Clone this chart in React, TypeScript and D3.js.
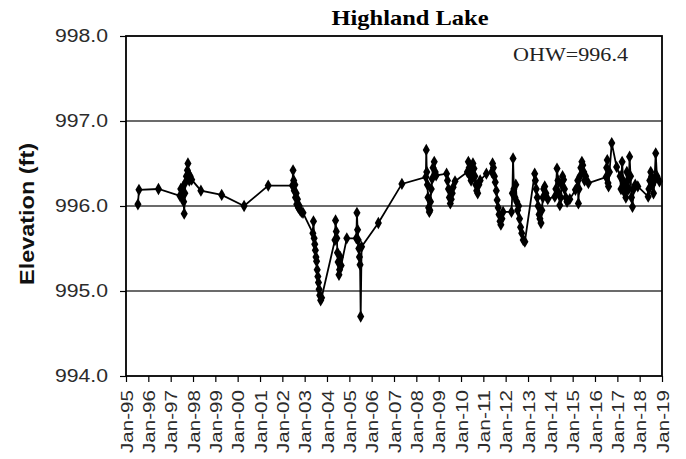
import React, { useEffect, useRef } from "react";
import * as d3 from "d3";

// lake level readings (elevation, ft)
const dates = [
  "1995-07-15", "1995-08-01", "1996-06-15",
  // 1997
  "1997-06-01", "1997-06-15", "1997-07-01", "1997-07-15", "1997-08-01", "1997-08-10", "1997-08-20", "1997-09-01",
  "1997-09-15", "1997-10-01", "1997-10-10", "1997-10-20", "1997-11-01", "1997-11-15", "1997-12-10",
  "1998-05-10", "1999-04-15", "2000-04-15", "2001-05-15", "2002-06-15",
  // 2002
  "2002-06-25", "2002-07-05", "2002-07-15", "2002-07-25", "2002-08-05", "2002-08-15", "2002-08-25", "2002-09-05",
  "2002-09-20", "2002-10-05", "2002-10-20", "2002-11-10", "2002-12-05",
  // 2003
  "2003-05-15", "2003-05-25", "2003-06-05", "2003-06-15", "2003-06-25", "2003-07-05", "2003-07-15", "2003-07-25",
  "2003-08-05", "2003-08-15", "2003-08-25", "2003-09-05", "2003-09-20", "2003-10-05",
  // 2004
  "2004-05-10", "2004-05-20", "2004-06-01", "2004-06-10", "2004-06-20", "2004-07-01", "2004-07-15", "2004-07-25",
  "2004-08-05", "2004-08-20", "2004-11-20",
  // 2005
  "2005-04-25", "2005-05-05", "2005-05-15", "2005-05-25", "2005-06-05", "2005-06-15", "2005-06-25", "2005-07-05",
  "2005-07-20",
  "2006-04-20", "2007-05-10",
  // 2008
  "2008-06-05", "2008-06-12", "2008-06-20", "2008-07-01", "2008-07-10", "2008-07-20", "2008-08-01", "2008-08-10",
  "2008-08-20", "2008-09-01", "2008-09-15", "2008-10-01", "2008-10-20", "2008-11-05", "2008-11-20",
  // 2009
  "2009-05-10", "2009-05-25", "2009-06-10", "2009-06-25", "2009-07-10", "2009-07-25", "2009-08-10", "2009-08-25",
  "2009-09-25",
  // 2010
  "2010-04-15", "2010-05-01", "2010-05-15", "2010-06-01", "2010-06-15", "2010-07-01", "2010-07-15", "2010-08-01",
  "2010-08-15", "2010-09-01", "2010-09-15", "2010-10-01", "2010-10-20", "2010-11-10",
  "2011-02-20",
  // 2011
  "2011-05-20", "2011-06-01", "2011-06-15", "2011-07-01", "2011-07-15", "2011-08-01", "2011-08-15", "2011-09-01",
  "2011-09-15", "2011-10-01", "2011-10-15", "2011-11-01", "2011-11-20",
  "2012-04-05",
  // 2012
  "2012-04-20", "2012-05-01", "2012-05-15", "2012-06-01", "2012-06-15", "2012-07-01", "2012-07-15", "2012-08-01",
  "2012-08-15", "2012-09-01", "2012-09-20", "2012-10-15", "2012-11-10",
  // 2013
  "2013-04-20", "2013-05-01", "2013-05-15", "2013-06-01", "2013-06-15", "2013-07-01", "2013-07-15", "2013-08-01",
  "2013-08-15", "2013-09-01", "2013-09-15", "2013-10-01", "2013-10-20", "2013-11-20",
  // 2014
  "2014-03-15", "2014-04-01", "2014-04-20", "2014-05-05", "2014-05-20", "2014-06-05", "2014-06-20", "2014-07-05",
  "2014-07-20", "2014-08-05", "2014-08-20", "2014-09-10", "2014-10-01", "2014-11-15",
  "2015-02-15",
  // 2015
  "2015-03-25", "2015-04-05", "2015-04-15", "2015-05-01", "2015-05-15", "2015-06-01", "2015-06-15", "2015-07-01",
  "2015-07-15", "2015-08-01", "2015-09-15",
  // 2016
  "2016-07-01", "2016-07-10", "2016-07-20", "2016-08-01", "2016-08-10", "2016-08-25", "2016-10-01", "2016-12-20",
  // 2017
  "2017-02-15", "2017-03-01", "2017-03-20", "2017-04-05", "2017-04-20", "2017-05-05", "2017-05-20", "2017-06-05",
  "2017-06-20", "2017-07-05", "2017-07-20", "2017-08-05", "2017-08-20", "2017-09-05", "2017-09-25", "2017-10-20",
  "2017-12-01",
  // 2018
  "2018-05-20", "2018-06-01", "2018-06-15", "2018-07-01", "2018-07-15", "2018-08-01", "2018-08-15", "2018-09-01",
  "2018-09-20", "2018-10-10", "2018-11-20",
];

const elevations = [
  996.02, 996.19, 996.2,
  996.12, 996.2, 996.1, 996.22, 996.05, 995.91, 996.15, 996.28,
  996.35, 996.42, 996.5, 996.38, 996.3, 996.35, 996.31,
  996.18, 996.13, 996.0, 996.24, 996.24,
  996.42, 996.3, 996.18, 996.25, 996.1, 996.15, 996.02, 996.08,
  995.98, 996.0, 995.95, 995.93, 995.92,
  995.68, 995.82, 995.62, 995.55, 995.48, 995.4, 995.35, 995.25,
  995.17, 995.1, 995.02, 994.95, 994.89, 994.92,
  995.6, 995.83, 995.7, 995.62, 995.45, 995.34, 995.19, 995.25,
  995.4, 995.3, 995.62,
  995.62, 995.92, 995.72, 995.6, 995.5, 995.4, 995.31, 994.7,
  995.52,
  995.8, 996.26,
  996.34, 996.66, 996.4, 996.25, 996.1, 995.98, 995.93, 995.95,
  996.05, 996.2, 996.32, 996.45, 996.52, 996.4, 996.36,
  996.38, 996.3, 996.2, 996.1, 996.03, 996.08, 996.15, 996.22,
  996.29,
  996.4, 996.52, 996.45, 996.35, 996.3, 996.42, 996.5, 996.44,
  996.35, 996.25, 996.18, 996.15, 996.25, 996.3,
  996.38,
  996.4, 996.5, 996.45, 996.35, 996.28, 996.18, 996.07, 995.98,
  995.9, 995.82, 995.78, 995.85, 995.93,
  995.93,
  996.15, 996.56, 996.2, 996.1, 996.25, 996.05, 995.95, 996.0,
  995.85, 995.75, 995.68, 995.6, 995.58,
  996.38, 996.3, 996.2, 996.1, 996.0, 995.9, 995.85, 995.8,
  995.95, 996.1, 996.2, 996.23, 996.15, 996.08,
  996.11, 996.2, 996.44, 996.3, 996.15, 996.01, 996.1, 996.25,
  996.35, 996.31, 996.2, 996.1, 996.05, 996.08,
  996.19,
  996.3, 996.03, 996.2, 996.35, 996.45, 996.52, 996.48, 996.4,
  996.3, 996.35, 996.27,
  996.34, 996.45, 996.54, 996.27, 996.23, 996.4, 996.74, 996.46,
  996.35, 996.2, 996.52, 996.3, 996.25, 996.15, 996.1, 996.4,
  996.3, 996.2, 996.58, 996.35, 996.1, 995.99, 996.2, 996.25,
  996.23,
  996.11, 996.2, 996.3, 996.4, 996.35, 996.25, 996.15, 996.3,
  996.62, 996.35, 996.29,
];

const yTicks = [994, 995, 996, 997, 998];
const gridLevels = [995, 996, 997];
const tickYears = d3.range(1995, 2020);
const chartTitle = "Highland Lake";
const ohwNote = "OHW=996.4";

const App = () => {
  const ref = useRef<SVGSVGElement>(null);

  useEffect(() => {
    const width = 686, height = 459;
    const m = { left: 126, right: 24, top: 36, bottom: 83 };
    const svg = d3.select(ref.current).attr("width", width).attr("height", height);
    svg.selectAll("*").remove();

    const parse = d3.timeParse("%Y-%m-%d");
    const data = dates.map((d, i) => ({ date: parse(d)!, value: elevations[i] }));

    const x = d3.scaleTime()
      .domain([new Date(1995, 0, 1), new Date(2019, 0, 1)])
      .range([m.left, width - m.right]);
    const y = d3.scaleLinear()
      .domain([994, 998])
      .range([height - m.bottom, m.top]);

    // gridlines
    svg.append("g")
      .selectAll("line")
      .data(gridLevels)
      .enter()
      .append("line")
      .attr("x1", m.left).attr("x2", width - m.right)
      .attr("y1", d => y(d)).attr("y2", d => y(d))
      .attr("stroke", "#3a3a3a").attr("stroke-width", 1.3);

    // x axis
    const xAxis = svg.append("g")
      .attr("transform", `translate(0,${height - m.bottom})`)
      .call(d3.axisBottom(x)
        .tickValues(tickYears.map(yr => new Date(yr, 0, 1)))
        .tickSize(6)
        .tickFormat(d => "Jan-" + d3.timeFormat("%y")(d as Date)));
    xAxis.select(".domain").remove();
    xAxis.selectAll("line").attr("stroke", "#000").attr("stroke-width", 1.2);
    xAxis.selectAll("text")
      .attr("transform", "rotate(-90)")
      .attr("text-anchor", "end")
      .attr("x", -14).attr("y", 0).attr("dy", "0.36em")
      .attr("fill", "#2b2b2b")
      .attr("font-family", "'Liberation Sans', Arial, sans-serif")
      .attr("font-size", 17)
      .attr("textLength", 63).attr("lengthAdjust", "spacingAndGlyphs");

    // y axis
    const yAxis = svg.append("g")
      .attr("transform", `translate(${m.left},0)`)
      .call(d3.axisLeft(y).tickValues(yTicks).tickSize(6).tickFormat(d3.format(".1f")));
    yAxis.select(".domain").remove();
    yAxis.selectAll("line").attr("stroke", "#000").attr("stroke-width", 1.2);
    yAxis.selectAll("text")
      .attr("x", -18)
      .attr("fill", "#2b2b2b")
      .attr("font-family", "'Liberation Sans', Arial, sans-serif")
      .attr("font-size", 18)
      .attr("textLength", 53).attr("lengthAdjust", "spacingAndGlyphs");

    // plot frame
    svg.append("rect")
      .attr("x", m.left).attr("y", m.top)
      .attr("width", width - m.left - m.right)
      .attr("height", height - m.top - m.bottom)
      .attr("fill", "none").attr("stroke", "#000").attr("stroke-width", 1.8);

    // data line and diamond markers
    const line = d3.line<{ date: Date; value: number }>()
      .x(d => x(d.date))
      .y(d => y(d.value));
    svg.append("path")
      .datum(data)
      .attr("d", line)
      .attr("fill", "none")
      .attr("stroke", "#000")
      .attr("stroke-width", 1.8);

    svg.append("g")
      .selectAll("path")
      .data(data)
      .enter()
      .append("path")
      .attr("d", d3.symbol().type(d3.symbolDiamond).size(44))
      .attr("transform", d => `translate(${x(d.date)},${y(d.value)})`)
      .attr("fill", "#000");

    // title and annotations
    svg.append("text")
      .attr("x", 410).attr("y", 25)
      .attr("text-anchor", "middle")
      .attr("font-family", "'Times New Roman', 'Liberation Serif', serif")
      .attr("font-weight", "bold")
      .attr("font-size", 21)
      .attr("textLength", 157).attr("lengthAdjust", "spacingAndGlyphs")
      .text(chartTitle);

    svg.append("text")
      .attr("x", 513).attr("y", 61)
      .attr("font-family", "'Times New Roman', 'Liberation Serif', serif")
      .attr("font-size", 19)
      .attr("fill", "#222")
      .attr("textLength", 115).attr("lengthAdjust", "spacingAndGlyphs")
      .text(ohwNote);

    svg.append("text")
      .attr("transform", `translate(34,214) rotate(-90)`)
      .attr("text-anchor", "middle")
      .attr("font-family", "'Liberation Sans', Arial, sans-serif")
      .attr("font-weight", "bold")
      .attr("font-size", 21)
      .attr("fill", "#111")
      .attr("textLength", 142).attr("lengthAdjust", "spacingAndGlyphs")
      .text("Elevation (ft)");
  }, []);

  return (
    <svg ref={ref} style={{ position: "absolute", left: 0, top: 0 }}></svg>
  );
};

export default App;
